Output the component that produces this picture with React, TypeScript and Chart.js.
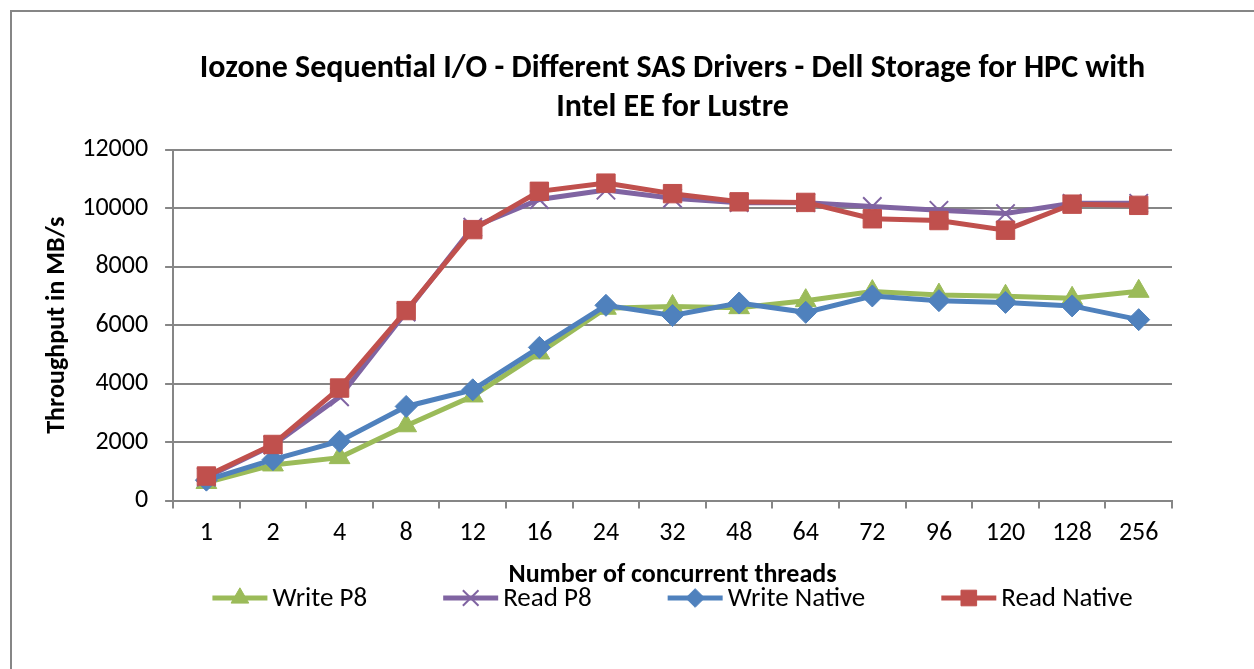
import React, { useEffect, useRef } from 'react';
import { Chart, registerables } from 'chart.js';
import { drawPoint } from 'chart.js/helpers';

Chart.register(...registerables);

const categories = ['1', '2', '4', '8', '12', '16', '24', '32', '48', '64', '72', '96', '120', '128', '256'];
const writeP8 = [620, 1220, 1470, 2560, 3580, 5050, 6580, 6640, 6600, 6840, 7150, 7030, 6990, 6920, 7160];
const readP8 = [800, 1900, 3550, 6450, 9350, 10300, 10620, 10340, 10190, 10190, 10060, 9930, 9820, 10170, 10170];
const writeNative = [700, 1400, 2030, 3220, 3790, 5240, 6680, 6330, 6760, 6440, 7000, 6840, 6780, 6660, 6190];
const readNative = [840, 1920, 3850, 6500, 9270, 10580, 10860, 10500, 10220, 10200, 9640, 9580, 9250, 10140, 10100];
const seriesNames = ['Write P8', 'Read P8', 'Write Native', 'Read Native'];
const titleLines = ['Iozone Sequential I/O - Different SAS Drivers - Dell Storage for HPC with', 'Intel EE for Lustre'];
const yTitle = 'Throughput in MB/s';
const xTitle = 'Number of concurrent threads';

const FONT = 'Calibri, Carlito, Lato, sans-serif';
const GRID = '#868686';

const styles = [
  { color: '#9BBB59', pointStyle: 'triangle', radius: 12, pbw: 1 },
  { color: '#8064A2', pointStyle: 'crossRot', radius: 13, pbw: 2 },
  { color: '#4F81BD', pointStyle: 'rectRot', radius: 11, pbw: 1 },
  { color: '#C0504D', pointStyle: 'rect', radius: 13, pbw: 1 },
];

const framePlugin = {
  id: 'frame',
  afterDraw(chart: any) {
    const ctx = chart.ctx;
    ctx.save();
    ctx.strokeStyle = GRID;
    ctx.lineWidth = 2;
    ctx.beginPath();
    ctx.moveTo(11, chart.height);
    ctx.lineTo(11, 11);
    ctx.lineTo(chart.width, 11);
    ctx.stroke();
    ctx.restore();
  },
};

const legendPlugin = {
  id: 'customLegend',
  afterDraw(chart: any) {
    const ctx = chart.ctx;
    const area = chart.chartArea;
    const fontSize = 27;
    ctx.save();
    ctx.font = `${fontSize}px ${FONT}`;
    const lineLen = 55;
    const gapText = 5;
    const spacing = 76;
    const widths = seriesNames.map((n) => lineLen + gapText + ctx.measureText(n).width);
    const total = widths.reduce((a, b) => a + b, 0) + spacing * (seriesNames.length - 1);
    let x = (area.left + area.right) / 2 - total / 2;
    const y = 598;
    seriesNames.forEach((name, i) => {
      const s = styles[i];
      ctx.strokeStyle = s.color;
      ctx.fillStyle = s.color;
      ctx.lineWidth = 5;
      ctx.beginPath();
      ctx.moveTo(x, y);
      ctx.lineTo(x + lineLen, y);
      ctx.stroke();
      ctx.lineWidth = s.pbw;
      drawPoint(ctx, { pointStyle: s.pointStyle, radius: s.radius * 0.85, rotation: 0, borderWidth: s.pbw } as any, x + lineLen / 2, y);
      ctx.fillStyle = '#000';
      ctx.textBaseline = 'middle';
      ctx.textAlign = 'left';
      ctx.fillText(name, x + lineLen + gapText, y + 1);
      x += widths[i] + spacing;
    });
    ctx.restore();
  },
};

export default function App() {
  const ref = useRef<HTMLCanvasElement | null>(null);
  useEffect(() => {
    if (!ref.current) return;
    const data = [writeP8, readP8, writeNative, readNative];
    const chart = new Chart(ref.current, {
      type: 'line',
      data: {
        labels: categories,
        datasets: data.map((d, i) => ({
          label: seriesNames[i],
          data: d,
          borderColor: styles[i].color,
          backgroundColor: styles[i].color,
          pointBackgroundColor: styles[i].color,
          pointBorderColor: styles[i].color,
          pointStyle: styles[i].pointStyle as any,
          pointRadius: styles[i].radius,
          pointBorderWidth: styles[i].pbw,
          borderWidth: 5,
          tension: 0,
          order: 3 - i,
        })),
      },
      options: {
        animation: false,
        responsive: false,
        maintainAspectRatio: false,
        layout: { padding: { left: 42, right: 82, top: 0, bottom: 78 } },
        plugins: {
          legend: { display: false },
          tooltip: { enabled: false },
          title: {
            display: true,
            text: titleLines,
            fullSize: false,
            color: '#000',
            font: { family: FONT, size: 32, weight: 'bold', lineHeight: 1.2 },
            padding: { top: 50, bottom: 23 },
          },
        },
        scales: {
          x: {
            offset: true,
            grid: { offset: true, drawOnChartArea: false, drawTicks: true, tickLength: 8, color: GRID, lineWidth: 2 },
            border: { color: GRID, width: 2 },
            ticks: { color: '#000', font: { family: FONT, size: 26 }, padding: 9, maxRotation: 0 },
            title: {
              display: true,
              text: xTitle,
              color: '#000',
              font: { family: FONT, size: 26, weight: 'bold' },
              padding: { top: 2, bottom: 0 },
            },
          },
          y: {
            min: 0,
            max: 12000,
            ticks: {
              stepSize: 2000,
              color: '#000',
              font: { family: FONT, size: 26 },
              padding: 17,
              callback: (v: any) => String(v),
            },
            grid: { color: GRID, lineWidth: 2, tickLength: 8 },
            border: { color: GRID, width: 2 },
            title: {
              display: true,
              text: yTitle,
              color: '#000',
              font: { family: FONT, size: 26, weight: 'bold' },
              padding: { top: 0, bottom: -8 },
            },
          },
        },
      },
      plugins: [framePlugin, legendPlugin],
    });
    return () => chart.destroy();
  }, []);
  return (
    <div style={{ position: 'absolute', left: 0, top: 0, width: 1254, height: 669, background: '#fff' }}>
      <canvas ref={ref} width={1254} height={669} style={{ display: 'block' }} />
    </div>
  );
}
